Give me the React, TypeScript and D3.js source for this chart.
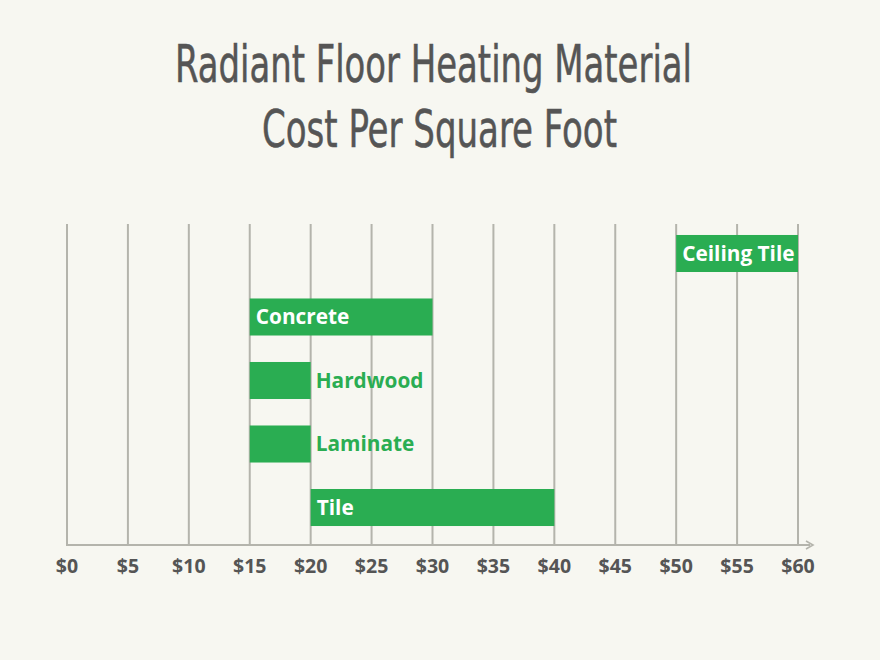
import React from 'react';
import * as d3 from 'd3';

const materials = ['Ceiling Tile', 'Concrete', 'Hardwood', 'Laminate', 'Tile'];
const costLow = [50, 15, 15, 15, 20];
const costHigh = [60, 30, 20, 20, 40];
const labelInside = [true, true, false, false, true];
const ticks = [0, 5, 10, 15, 20, 25, 30, 35, 40, 45, 50, 55, 60];

const W = 880;
const H = 660;
const GREEN = '#2aad52';
const GRID = '#b4b4ac';
const TEXT = '#555555';

const App: React.FC = () => {
  const x = d3.scaleLinear().domain([0, 60]).range([67, 798]);
  const y = d3.scaleBand<string>().domain(materials).range([208.5, 552.5]).paddingInner(0.417).paddingOuter(0.417);
  const gridTop = 224;
  const axisY = 545;

  return (
    <svg width={W} height={H} style={{ display: 'block', position: 'absolute', left: 0, top: 0 }}>
      <rect width={W} height={H} fill="#f7f7f1" />
      <g fontFamily="'DejaVu Sans Condensed', 'Liberation Sans Narrow', sans-serif" fill="#555555" stroke="#555555" strokeWidth={0.5} textAnchor="middle">
        <text x={433.5} y={82} fontSize={52} textLength={517} lengthAdjust="spacingAndGlyphs">Radiant Floor Heating Material</text>
        <text x={439.5} y={147} fontSize={52} textLength={355} lengthAdjust="spacingAndGlyphs">Cost Per Square Foot</text>
      </g>

      {/* grid */}
      {ticks.map(t => (
        <line key={t} x1={x(t)} x2={x(t)} y1={gridTop} y2={axisY} stroke={GRID} strokeWidth={2} />
      ))}

      {/* axis with arrow */}
      <line x1={66} x2={810} y1={axisY} y2={axisY} stroke={GRID} strokeWidth={2} />
      <path d={`M${806},${axisY - 4} L${813},${axisY} L${806},${axisY + 4}`} fill="none" stroke={GRID} strokeWidth={1.6} />

      {/* bars */}
      {materials.map((m, i) => {
        const y0 = y(m)!;
        const bw = y.bandwidth();
        const x0 = x(costLow[i]);
        const x1 = x(costHigh[i]);
        return (
          <g key={m}>
            <rect x={x0} y={y0} width={x1 - x0} height={bw} fill={GREEN} />
            <text
              x={labelInside[i] ? x0 + 6 : x1 + 5}
              y={y0 + bw / 2}
              dy="0.36em"
              fontFamily="'Open Sans', sans-serif"
              fontWeight={700}
              fontSize={20.8}
              fill={labelInside[i] ? '#ffffff' : GREEN}
            >
              {m}
            </text>
          </g>
        );
      })}

      {/* tick labels */}
      {ticks.map(t => (
        <text key={t} x={x(t)} y={573} textAnchor="middle" fontFamily="'Open Sans', sans-serif" fontWeight={700} fontSize={19.5} fill={TEXT}>
          {`$${t}`}
        </text>
      ))}
    </svg>
  );
};

export default App;
